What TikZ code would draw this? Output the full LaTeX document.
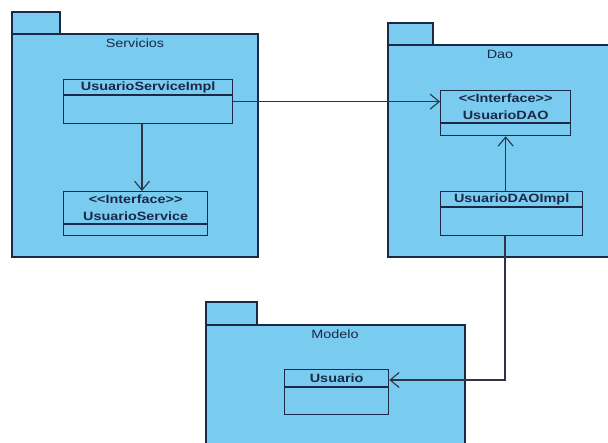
\documentclass[tikz,border=0pt]{standalone}
\usepackage{fontspec}
\usetikzlibrary{arrows.meta,calc}
\newfontfamily\umlfont[FakeStretch=1.2]{Liberation Sans}
\definecolor{pkgfill}{HTML}{79CBF0}
\definecolor{ink}{HTML}{1B2846}
\definecolor{wire}{HTML}{2E3445}
\begin{document}
\begin{tikzpicture}[x=1pt,y=-1pt,
  every node/.style={font=\umlfont\fontsize{12}{14}\selectfont, text=ink},
  pkg/.style={draw=ink, line width=1.1pt, fill=pkgfill},
  pkglabel/.style={inner sep=0pt, anchor=center},
  classbox/.style={draw=ink, line width=1.3pt, fill=pkgfill, anchor=north west,
    inner sep=0pt, minimum width=#1},
  divider/.style={draw=ink, line width=1.1pt},
  clsname/.style={inner sep=0pt, font=\umlfont\bfseries\fontsize{12}{14}\selectfont},
  dep/.style={draw=wire, line width=1.1pt, -{Straight Barb[length=9pt,width=15pt,line width=1.1pt]}},
  link/.style={draw=wire, line width=1.1pt}
]
\useasboundingbox (0,0) rectangle (608,443);
\fill[white] (0,0) rectangle (608,443);

% ---- package Servicios ----
\draw[pkg] (12,12) rectangle (60,34);
\draw[pkg] (12,34) rectangle (258,257);
\node[pkglabel] (lserv) at (135,43) {Servicios};

% ---- package Dao ----
\draw[pkg] (388,23) rectangle (433,45);
\path[fill=pkgfill] (388,45) rectangle (610,257);
\draw[ink, line width=1.1pt] (610,45) -- (388,45) -- (388,257) -- (610,257);
\node[pkglabel] (ldao) at (500,54) {Dao};

% ---- package Modelo ----
\draw[pkg] (206,302) rectangle (257,325);
\path[fill=pkgfill] (206,325) rectangle (465,446);
\draw[ink, line width=1.1pt] (206,446) -- (206,325) -- (465,325) -- (465,446);
\node[pkglabel] (lmod) at (335,334) {Modelo};

% ---- classes ----
% UsuarioServiceImpl
\node[classbox=169pt, minimum height=44pt] (si) at (63,79) {};
\draw[divider] ($(si.north west)+(0,16)$) -- ($(si.north east)+(0,16)$);
\node[clsname] (siname) at ($(si.north)+(0,8)$) {UsuarioServiceImpl};

% UsuarioService
\node[classbox=144pt, minimum height=44pt] (us) at (63,191) {};
\draw[divider] ($(us.north west)+(0,33)$) -- ($(us.north east)+(0,33)$);
\node[clsname] (usst) at ($(us.north)+(0,8)$) {<<Interface>>};
\node[clsname] (usname) at ($(us.north)+(0,25)$) {UsuarioService};

% UsuarioDAO
\node[classbox=130pt, minimum height=45pt] (dao) at (440,90) {};
\draw[divider] ($(dao.north west)+(0,33)$) -- ($(dao.north east)+(0,33)$);
\node[clsname] (daost) at ($(dao.north)+(0,8)$) {<<Interface>>};
\node[clsname] (daoname) at ($(dao.north)+(0,25)$) {UsuarioDAO};

% UsuarioDAOImpl
\node[classbox=142pt, minimum height=44pt] (di) at (440,191) {};
\draw[divider] ($(di.north west)+(0,16)$) -- ($(di.north east)+(0,16)$);
\node[clsname] (diname) at ($(di.north)+(0,8)$) {UsuarioDAOImpl};

% Usuario
\node[classbox=104pt, minimum height=45pt] (u) at (284,369) {};
\draw[divider] ($(u.north west)+(0,18)$) -- ($(u.north east)+(0,18)$);
\node[clsname] (uname) at ($(u.north)+(0,9)$) {Usuario};

% ---- dependencies ----
\coordinate (sidrop) at (142,0);
\draw[dep] (si.south -| sidrop) -- (us.north -| sidrop);
\draw[dep] (si.east) -- (si.east -| dao.west);
\draw[dep] (di.north -| dao.south) -- (dao.south);
\coordinate (bend) at (505,380);
\draw[dep] (di.south -| bend) -- (bend) -- (bend -| u.east);
\end{tikzpicture}
\end{document}
